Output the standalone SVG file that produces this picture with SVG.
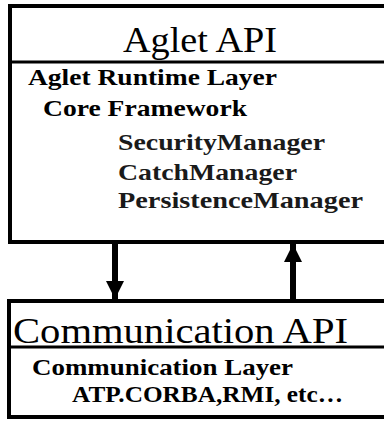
<svg xmlns="http://www.w3.org/2000/svg" width="384" height="423" viewBox="0 0 384 423">
<style>
.ln{stroke:#000;stroke-width:4;fill:none}
.thin{stroke:#000;stroke-width:3;fill:none}
.big{font-family:"Liberation Serif","Times New Roman",serif;font-size:36px;fill:#000}
.b{font-family:"Liberation Serif","Times New Roman",serif;font-weight:bold;font-size:23px;fill:#000}
.g{font-family:"Liberation Serif","Times New Roman",serif;font-weight:bold;font-size:23px;fill:#1a1a1a}
</style>
<defs>
<marker id="ah" viewBox="0 0 10 10" refX="10" refY="5" markerWidth="3" markerHeight="3" markerUnits="strokeWidth" orient="auto">
<path d="M0,0 L10,5 L0,10 z" fill="#000"/>
</marker>
</defs>
<rect width="384" height="423" fill="#fff"/>
<g id="aglet-api">
<path class="ln" d="M386,6 H10 V242 H386"/>
<line class="thin" x1="10" y1="62" x2="386" y2="62"/>
<text class="big" x="123" y="52" textLength="154" lengthAdjust="spacingAndGlyphs">Aglet API</text>
<text class="b" x="28" y="85" textLength="249" lengthAdjust="spacingAndGlyphs">Aglet Runtime Layer</text>
<text class="b" x="43" y="116" textLength="204" lengthAdjust="spacingAndGlyphs">Core Framework</text>
<text class="g" x="118" y="150" textLength="207" lengthAdjust="spacingAndGlyphs">SecurityManager</text>
<text class="g" x="118" y="180" textLength="179" lengthAdjust="spacingAndGlyphs">CatchManager</text>
<text class="g" x="118" y="208" textLength="245" lengthAdjust="spacingAndGlyphs">PersistenceManager</text>
</g>
<g id="communication-api">
<path class="ln" d="M386,301 H9 V417 H386"/>
<line class="thin" x1="9" y1="347" x2="386" y2="347"/>
<text class="big" x="13" y="343" textLength="335" lengthAdjust="spacingAndGlyphs" font-size="38">Communication API</text>
<text class="b" x="32" y="375" textLength="261" lengthAdjust="spacingAndGlyphs">Communication Layer</text>
<text class="b" x="72" y="402" textLength="271" lengthAdjust="spacingAndGlyphs">ATP.CORBA,RMI, etc…</text>
</g>
<g id="connectors">
<line x1="115" y1="244" x2="115" y2="299" stroke="#000" stroke-width="6" marker-end="url(#ah)"/>
<line x1="293" y1="299" x2="293" y2="244" stroke="#000" stroke-width="6" marker-end="url(#ah)"/>
</g>
</svg>
